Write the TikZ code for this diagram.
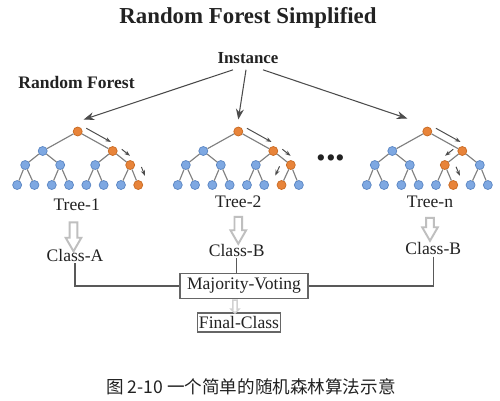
\documentclass[tikz,border=0pt]{standalone}
\usepackage{fontspec}
\setmainfont{Liberation Serif}
\newfontfamily\cjk{Noto Sans CJK SC}
\usepackage{tikz}
\usetikzlibrary{arrows.meta,calc,shapes.arrows}
\definecolor{ink}{HTML}{222222}
\definecolor{leafblue}{HTML}{7EA8E2}
\definecolor{leafedge}{HTML}{5A85C2}
\definecolor{hotorange}{HTML}{E8843A}
\definecolor{hotedge}{HTML}{C86A22}
\definecolor{twig}{HTML}{808080}

\begin{document}
\begin{tikzpicture}[x=0.02cm,y=-0.02cm]
\tikzstyle{every node}+=[text=ink]
\tikzstyle{cold}=[circle,draw=leafedge,fill=leafblue,line width=0.4pt,minimum size=0.18cm,inner sep=0pt]
\tikzstyle{hot}=[cold,draw=hotedge,fill=hotorange]
\tikzstyle{branch}=[draw=twig,line width=0.65pt]
\tikzstyle{walk}=[draw=black!70,line width=0.55pt,shorten <=3.4pt,shorten >=3.4pt,-{Stealth[length=3.2pt,width=2.4pt]}]
\tikzstyle{feed}=[draw=black!70,line width=0.6pt,-{Stealth[length=6pt,width=4.5pt]}]
\tikzstyle{tag}=[font=\fontsize{10}{12}\selectfont,inner sep=1pt]
\tikzstyle{box}=[draw=black!60,line width=0.6pt,tag]
\tikzstyle{wire}=[draw=black!65,line width=0.6pt]
\tikzstyle{hollow}=[single arrow,draw=black!25,line width=1.1pt,fill=white,rotate=-90,minimum height=0.58cm,minimum width=0.27cm,single arrow head extend=0.08cm,single arrow tip angle=60,inner sep=0.057cm]
\fill[white] (0,0) rectangle (500,400);
\useasboundingbox (0,0) rectangle (500,400);
\node[font=\fontsize{13}{15}\selectfont\bfseries] (title) at (248,18) {Random Forest Simplified};
\node[font=\fontsize{9.6}{11}\selectfont\bfseries] (inst) at (248,58) {Instance};
\node[font=\fontsize{10}{12}\selectfont\bfseries] (forest) at (76.5,82) {Random Forest};
\foreach \tr/\rx/\oa/\ob/\oc in {a/77.7/3/7/15,b/238.3/3/7/14,n/427.3/3/6/13}{
  \foreach \k/\dx/\dy in {1/0/131.5,2/-35/151,3/35/151,4/-52.5/165,5/-17.5/165,6/17.5/165,7/52.5/165,8/-60.55/185,9/-43.25/185,10/-25.95/185,11/-8.65/185,12/8.65/185,13/25.95/185,14/43.25/185,15/60.55/185}{
    \pgfmathtruncatemacro\ishot{(\k==1)||(\k==\oa)||(\k==\ob)||(\k==\oc)}
    \ifnum\ishot=1 \node[hot] (\tr\k) at ({\rx+(\dx)},\dy) {};
    \else \node[cold] (\tr\k) at ({\rx+(\dx)},\dy) {};
    \fi
  }
  \foreach \k in {2,...,15}{
    \pgfmathtruncatemacro\pa{\k/2}
    \draw[branch] (\tr\pa) -- (\tr\k);
  }
}
\draw[walk] ($(a1)!4pt!90:(a3)$) -- ($(a3)!4pt!-90:(a1)$);
\draw[walk] ($(a3)!4pt!90:(a7)$) -- ($(a7)!4pt!-90:(a3)$);
\draw[walk] ($(a7)!5.5pt!90:(a15)$) -- ($(a15)!5.5pt!-90:(a7)$);
\draw[walk] ($(b1)!4pt!90:(b3)$) -- ($(b3)!4pt!-90:(b1)$);
\draw[walk] ($(b3)!4pt!90:(b7)$) -- ($(b7)!4pt!-90:(b3)$);
\draw[walk] ($(b7)!5.5pt!-90:(b14)$) -- ($(b14)!5.5pt!90:(b7)$);
\draw[walk] ($(n1)!4pt!90:(n3)$) -- ($(n3)!4pt!-90:(n1)$);
\draw[walk] ($(n3)!4pt!-90:(n6)$) -- ($(n6)!4pt!90:(n3)$);
\draw[walk] ($(n6)!5.5pt!90:(n13)$) -- ($(n13)!5.5pt!-90:(n6)$);
\draw[feed] ($(inst.south)+(-15,0)$) -- ($(a1)+(6,-12)$);
\draw[feed] ($(inst.south)+(-2,0)$) -- ($(b1)+(0,-12)$);
\draw[feed] ($(inst.south)+(15,0)$) -- ($(n1)+(-20,-13)$);
\node[font=\fontsize{22}{22}\selectfont\bfseries] (more) at (331,158) {...};
\node[tag] (tree1) at (76.7,205) {Tree-1};
\node[tag] (tree2) at (238.3,202) {Tree-2};
\node[tag] (treen) at (430,202) {Tree-n};
\node[hollow] (down1) at (73.5,233.5) {};
\node[hollow,minimum height=0.54cm] (down2) at (238.3,227) {};
\node[hollow,minimum height=0.46cm] (downn) at (430,226) {};
\node[tag] (classa) at (75,255) {Class-A};
\node[tag] (classb) at (236.7,250) {Class-B};
\node[tag] (classn) at (433.3,248.3) {Class-B};
\node[box,minimum width=2.56cm,minimum height=0.5cm] (vote) at (244,286) {Majority-Voting};
\node[box,minimum width=1.64cm,minimum height=0.38cm] (final) at (239,322.5) {Final-Class};
\node[hollow,draw=black!18,line width=0.8pt,minimum height=0.26cm,minimum width=0.16cm,single arrow head extend=0.035cm,single arrow tip angle=90,inner sep=0.025cm] (pass) at (235,305.5) {};
\draw[wire] (classa.south) |- (vote.west);
\draw[wire] (classb.south) -- (classb.south |- vote.north);
\draw[wire] (classn.south) |- (vote.east);
\node[font=\cjk\fontsize{10}{12}\selectfont] (caption) at (251,387) {图 2-10 一个简单的随机森林算法示意};
\end{tikzpicture}
\end{document}
